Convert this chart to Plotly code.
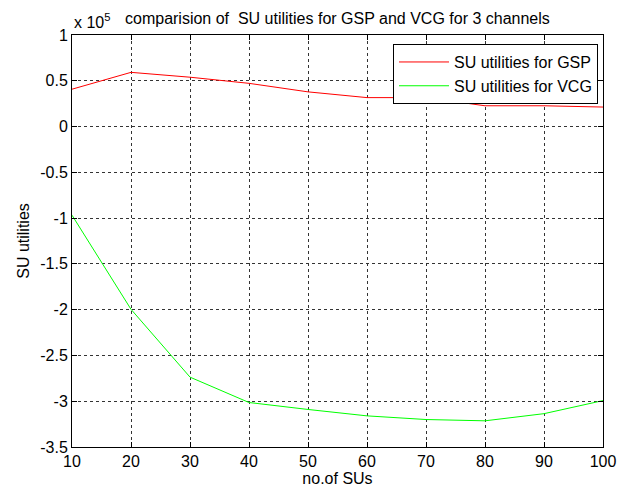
import plotly.graph_objects as go

n_sus = [10, 20, 30, 40, 50, 60, 70, 80, 90, 100]
gsp_util = [0.408e5, 0.592e5, 0.539e5, 0.472e5, 0.379e5, 0.316e5, 0.316e5, 0.227e5, 0.227e5, 0.213e5]
vcg_util = [-0.968e5, -1.996e5, -2.737e5, -3.014e5, -3.09e5, -3.16e5, -3.20e5, -3.214e5, -3.136e5, -2.993e5]
ytick_vals = [1, 0.5, 0, -0.5, -1, -1.5, -2, -2.5, -3, -3.5]
xtick_vals = [10, 20, 30, 40, 50, 60, 70, 80, 90, 100]

font = "Arial, Liberation Sans, Helvetica, sans-serif"
fs = 16

fig = go.Figure()
fig.add_trace(go.Scatter(x=n_sus, y=gsp_util, mode="lines", name="SU utilities for GSP",
                         line=dict(color="#ff0000", width=1)))
fig.add_trace(go.Scatter(x=n_sus, y=vcg_util, mode="lines", name="SU utilities for VCG",
                         line=dict(color="#00ff00", width=1)))

axis_common = dict(showline=True, linecolor="black", linewidth=1, mirror="ticks",
                   ticks="inside", ticklen=5, tickcolor="black",
                   showgrid=True, gridcolor="#333333", griddash="dot", gridwidth=1,
                   zeroline=False, tickfont=dict(family=font, size=fs, color="black"))

fig.update_xaxes(range=[10, 100], tickvals=xtick_vals,
                 title=dict(text="no.of SUs", font=dict(family=font, size=fs, color="black"), standoff=2),
                 **axis_common)
fig.update_yaxes(range=[-3.5e5, 1e5], tickvals=[v * 1e5 for v in ytick_vals],
                 ticktext=[("%g" % v) for v in ytick_vals],
                 title=dict(text="SU utilities", font=dict(family=font, size=fs, color="black"), standoff=6),
                 **axis_common)

fig.update_layout(
    width=630, height=495,
    margin=dict(l=72, r=27, t=35, b=42),
    paper_bgcolor="white", plot_bgcolor="white",
    font=dict(family=font, size=fs, color="black"),
    showlegend=True,
    legend=dict(x=0.9906, y=0.978, xanchor="right", yanchor="top",
                bgcolor="white", bordercolor="black", borderwidth=1,
                font=dict(family=font, size=fs, color="black"),
                itemwidth=50, tracegroupgap=0),
    annotations=[
        dict(text="comparision of  SU utilities for GSP and VCG for 3 channels", xref="paper", yref="paper",
             x=0.5, y=1, xanchor="center", yanchor="bottom", yshift=6, showarrow=False,
             font=dict(family=font, size=fs, color="black")),
        dict(text="x 10<sup>5</sup>", xref="paper", yref="paper", x=0, y=1, xanchor="left",
             yanchor="bottom", yshift=2, showarrow=False,
             font=dict(family=font, size=fs, color="black")),
    ],
)

fig.write_html("out.html")
